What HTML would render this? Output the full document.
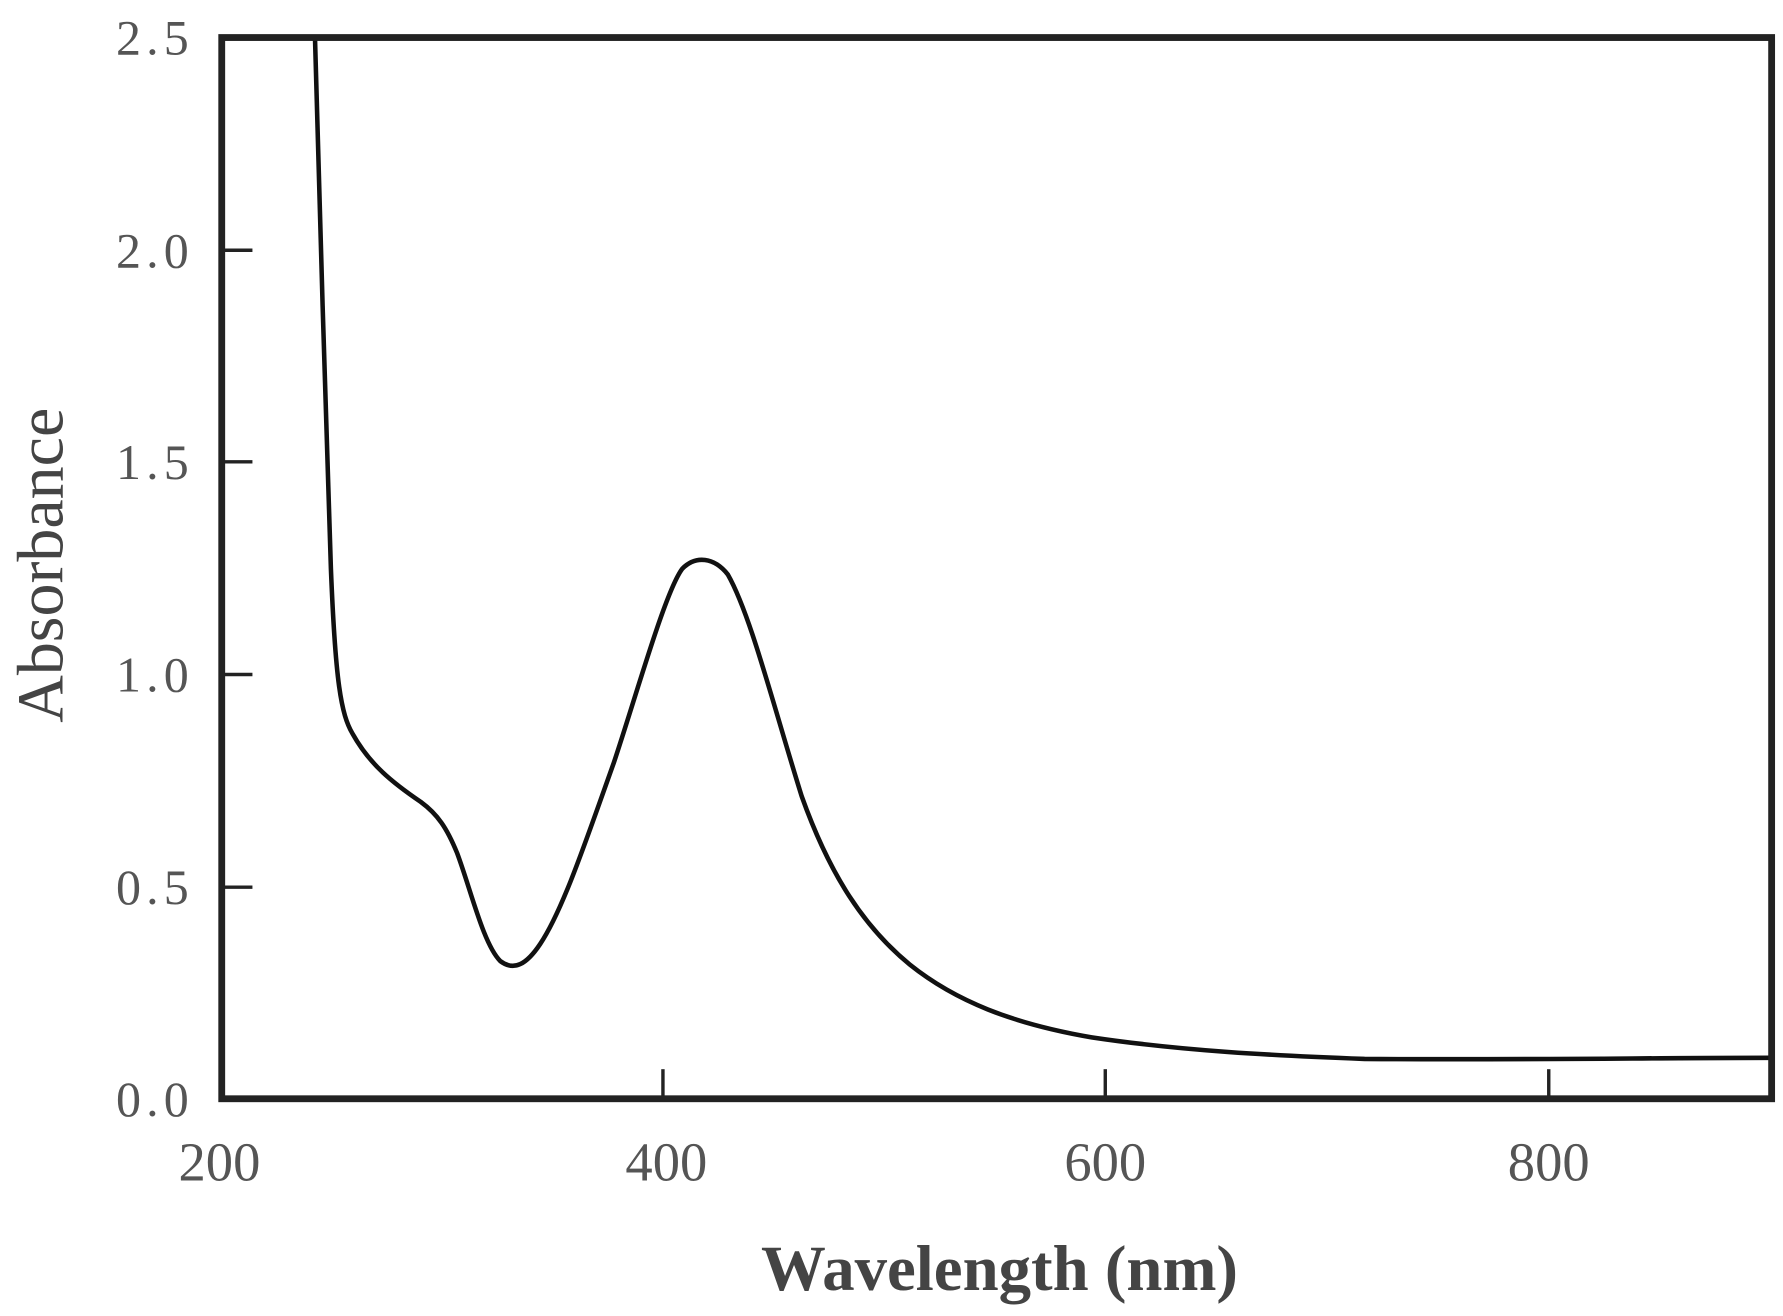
<!DOCTYPE html>
<html><head><style>html,body{margin:0;padding:0;background:#fff}svg{display:block}</style></head>
<body>
<svg width="1783" height="1316" viewBox="0 0 1568 1157" preserveAspectRatio="none" xmlns="http://www.w3.org/2000/svg">
<rect width="1568" height="1157" fill="#fff"/>
<g stroke="#222" stroke-width="3">
<line x1="195" y1="220" x2="222" y2="220"/>
<line x1="195" y1="406" x2="222" y2="406"/>
<line x1="195" y1="593" x2="222" y2="593"/>
<line x1="195" y1="780" x2="222" y2="780"/>
<line x1="583" y1="966" x2="583" y2="940"/>
<line x1="972" y1="966" x2="972" y2="940"/>
<line x1="1362" y1="966" x2="1362" y2="940"/>
</g>
<path d="M277,33 C281,150 286,380 291,500 C295,600 300,628 310,645 C325,672 345,688 370,705 C385,716 393,728 402,750 C414,782 425,830 440,845 C452,854 463,848 475,830 C495,800 515,740 540,670 C560,610 585,520 600,500 C612,488 628,490 640,505 C660,540 680,620 705,700 C730,770 760,815 800,848 C840,880 890,900 960,912 C1040,924 1120,928 1200,931 C1350,932 1450,930 1558,930" fill="none" stroke="#111" stroke-width="4"/>
<rect x="195" y="33" width="1363" height="933" fill="none" stroke="#222" stroke-width="6"/>
<g font-family="Liberation Serif, serif" font-size="44" fill="#555" text-anchor="end">
<text x="166" y="48" textLength="64">2.5</text>
<text x="166" y="235" textLength="64">2.0</text>
<text x="166" y="421" textLength="64">1.5</text>
<text x="166" y="608" textLength="64">1.0</text>
<text x="166" y="795" textLength="64">0.5</text>
<text x="166" y="981" textLength="64">0.0</text>
</g>
<g font-family="Liberation Serif, serif" font-size="48" fill="#555" text-anchor="middle">
<text x="193" y="1038">200</text>
<text x="586" y="1038">400</text>
<text x="972" y="1038">600</text>
<text x="1362" y="1038">800</text>
</g>
<text x="879" y="1134" font-family="Liberation Serif, serif" font-size="57" font-weight="bold" fill="#444" text-anchor="middle">Wavelength (nm)</text>
<text transform="translate(55,497) rotate(-90)" font-family="Liberation Serif, serif" font-size="58" fill="#444" text-anchor="middle">Absorbance</text>
</svg>
</body></html>
